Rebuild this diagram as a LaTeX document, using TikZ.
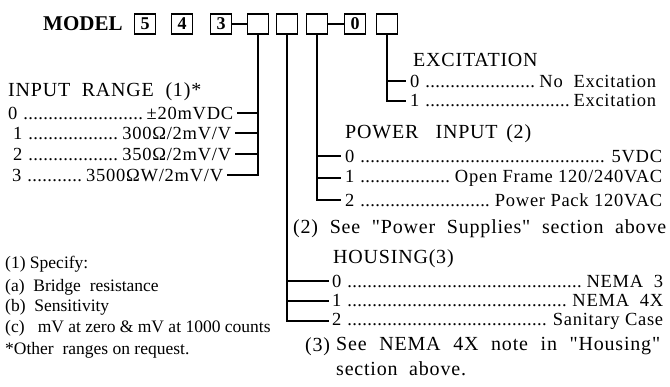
\documentclass[tikz,border=0pt]{standalone}
\usepackage{fontspec}
\setmainfont{Liberation Serif}[Ligatures=TeXOff]
\newfontfamily\labfont{Liberation Serif}[LetterSpace=4, Ligatures=TeXOff]
\usetikzlibrary{positioning}
\tikzset{
		basic/.style  = {inner sep=0pt, anchor=west},
		digit/.style  = {draw, line width=1.4pt, minimum width=21pt, minimum height=20pt,
			inner sep=0pt, font=\bfseries\fontsize{18}{18}\selectfont},
		head/.style   = {basic, font=\labfont\fontsize{20}{20}\selectfont},
		option/.style = {basic, font=\labfont\fontsize{18.5}{18.5}\selectfont},
		remark/.style = {basic, font=\fontsize{17.5}{17.5}\selectfont},
		lead/.style   = {draw, line width=1.7pt}
	}
\newcommand{\dotleader}{\leaders\hbox to 0.27em{\hss.\hss}\hfill}
\newcommand{\optrow}[3]{\makebox[#1]{#2\ \dotleader\,#3}}

\begin{document}
\begin{tikzpicture}[x=1pt, y=-1pt]
		\useasboundingbox (0,0) rectangle (670,386);
		% the model number, one box per digit
		\node[basic, font=\bfseries\fontsize{21}{21}\selectfont] (model) at (43,24) {MODEL};
		\node[digit] (b1) at (145,24) {5};
		\node[digit] (b2) at (182,24) {4};
		\node[digit] (b3) at (221,24) {3};
		\node[digit] (b4) at (258,24) {};
		\node[digit] (b5) at (287,24) {};
		\node[digit] (b6) at (317,24) {};
		\node[digit] (b7) at (355,24) {0};
		\node[digit] (b8) at (387,24) {};
		\draw[line width=1.4pt] (b3) -- (b4) (b6) -- (b7);
		% input range
		\node[head] (ir) at (8,92) {INPUT\ \ RANGE\ \ (1)*};
		\begin{scope}[every node/.style={option}]
			\node (ir1) at (8,113) {\optrow{225pt}{0}{±20mVDC}};
			\node (ir2) at (13,133) {\optrow{218pt}{1}{300Ω/2mV/V}};
			\node (ir3) at (13,154) {\optrow{218pt}{2}{350Ω/2mV/V}};
			\node (ir4) at (12,175) {\optrow{211pt}{3}{3500ΩW/2mV/V}};
		\end{scope}
		% excitation
		\node[head] (ex) at (413,60) {EXCITATION};
		\begin{scope}[every node/.style={option}]
			\node (ex1) at (410,81) {\optrow{246pt}{0}{No\ \ Excitation}};
			\node (ex2) at (410,101) {\optrow{246pt}{1}{Excitation}};
		\end{scope}
		% power input
		\node[head] (pw) at (345,134) {\makebox[186pt][s]{POWER\ \ INPUT\ (2)}};
		\begin{scope}[every node/.style={option}]
			\node (pw1) at (345,156) {\optrow{317pt}{0}{5VDC}};
			\node (pw2) at (345,178) {\optrow{317pt}{1}{Open\ Frame\ 120/240VAC}};
			\node (pw3) at (345,200) {\optrow{317pt}{2}{Power\ Pack\ 120VAC}};
		\end{scope}
		\node[head] (pwnote) at (293,229) {\makebox[373pt][s]{(2) See "Power Supplies" section above}};
		% housing
		\node[head] (hs) at (333,259) {HOUSING(3)};
		\begin{scope}[every node/.style={option}]
			\node (hs1) at (332,281) {\optrow{331pt}{0}{NEMA\ \ 3}};
			\node (hs2) at (332,301) {\optrow{331pt}{1}{NEMA\ \ 4X}};
			\node (hs3) at (332,321) {\optrow{331pt}{2}{Sanitary\ Case}};
		\end{scope}
		\node[head] (hsno) at (305,347) {(3)};
		\node[head] (hsnote) at (336,346) {\makebox[324pt][s]{See NEMA 4X note in "Housing"}};
		\node[head, below=6pt of hsnote.south west, anchor=north west] (hsnote2) {section\ \ above.};
		% remarks on the input range
		\begin{scope}[every node/.style={remark}]
			\node (rm1) at (5,264) {(1) Specify:};
			\node (rm2) at (5,287) {(a)\ \ Bridge\ \ resistance};
			\node (rm3) at (5,307) {(b)\ \ Sensitivity};
			\node (rm4) at (5,328) {(c)\ \ \ mV at zero \& mV at 1000 counts};
			\node (rm5) at (5,350) {*Other\ \ ranges on request.};
		\end{scope}
		% leads from the boxes to the options
		\foreach \value in {1,...,4}
		\draw[lead] (b4.south) |- ([xshift=4pt]ir\value.east);
		\foreach \value in {1,...,2}
		\draw[lead] (b8.south) |- ([xshift=-4pt]ex\value.west);
		\foreach \value in {1,...,3}
		\draw[lead] (b6.south) |- ([xshift=-4pt]pw\value.west);
		\foreach \value in {1,...,3}
		\draw[lead] (b5.south) |- ([xshift=-3pt]hs\value.west);
	\end{tikzpicture}
\end{document}
